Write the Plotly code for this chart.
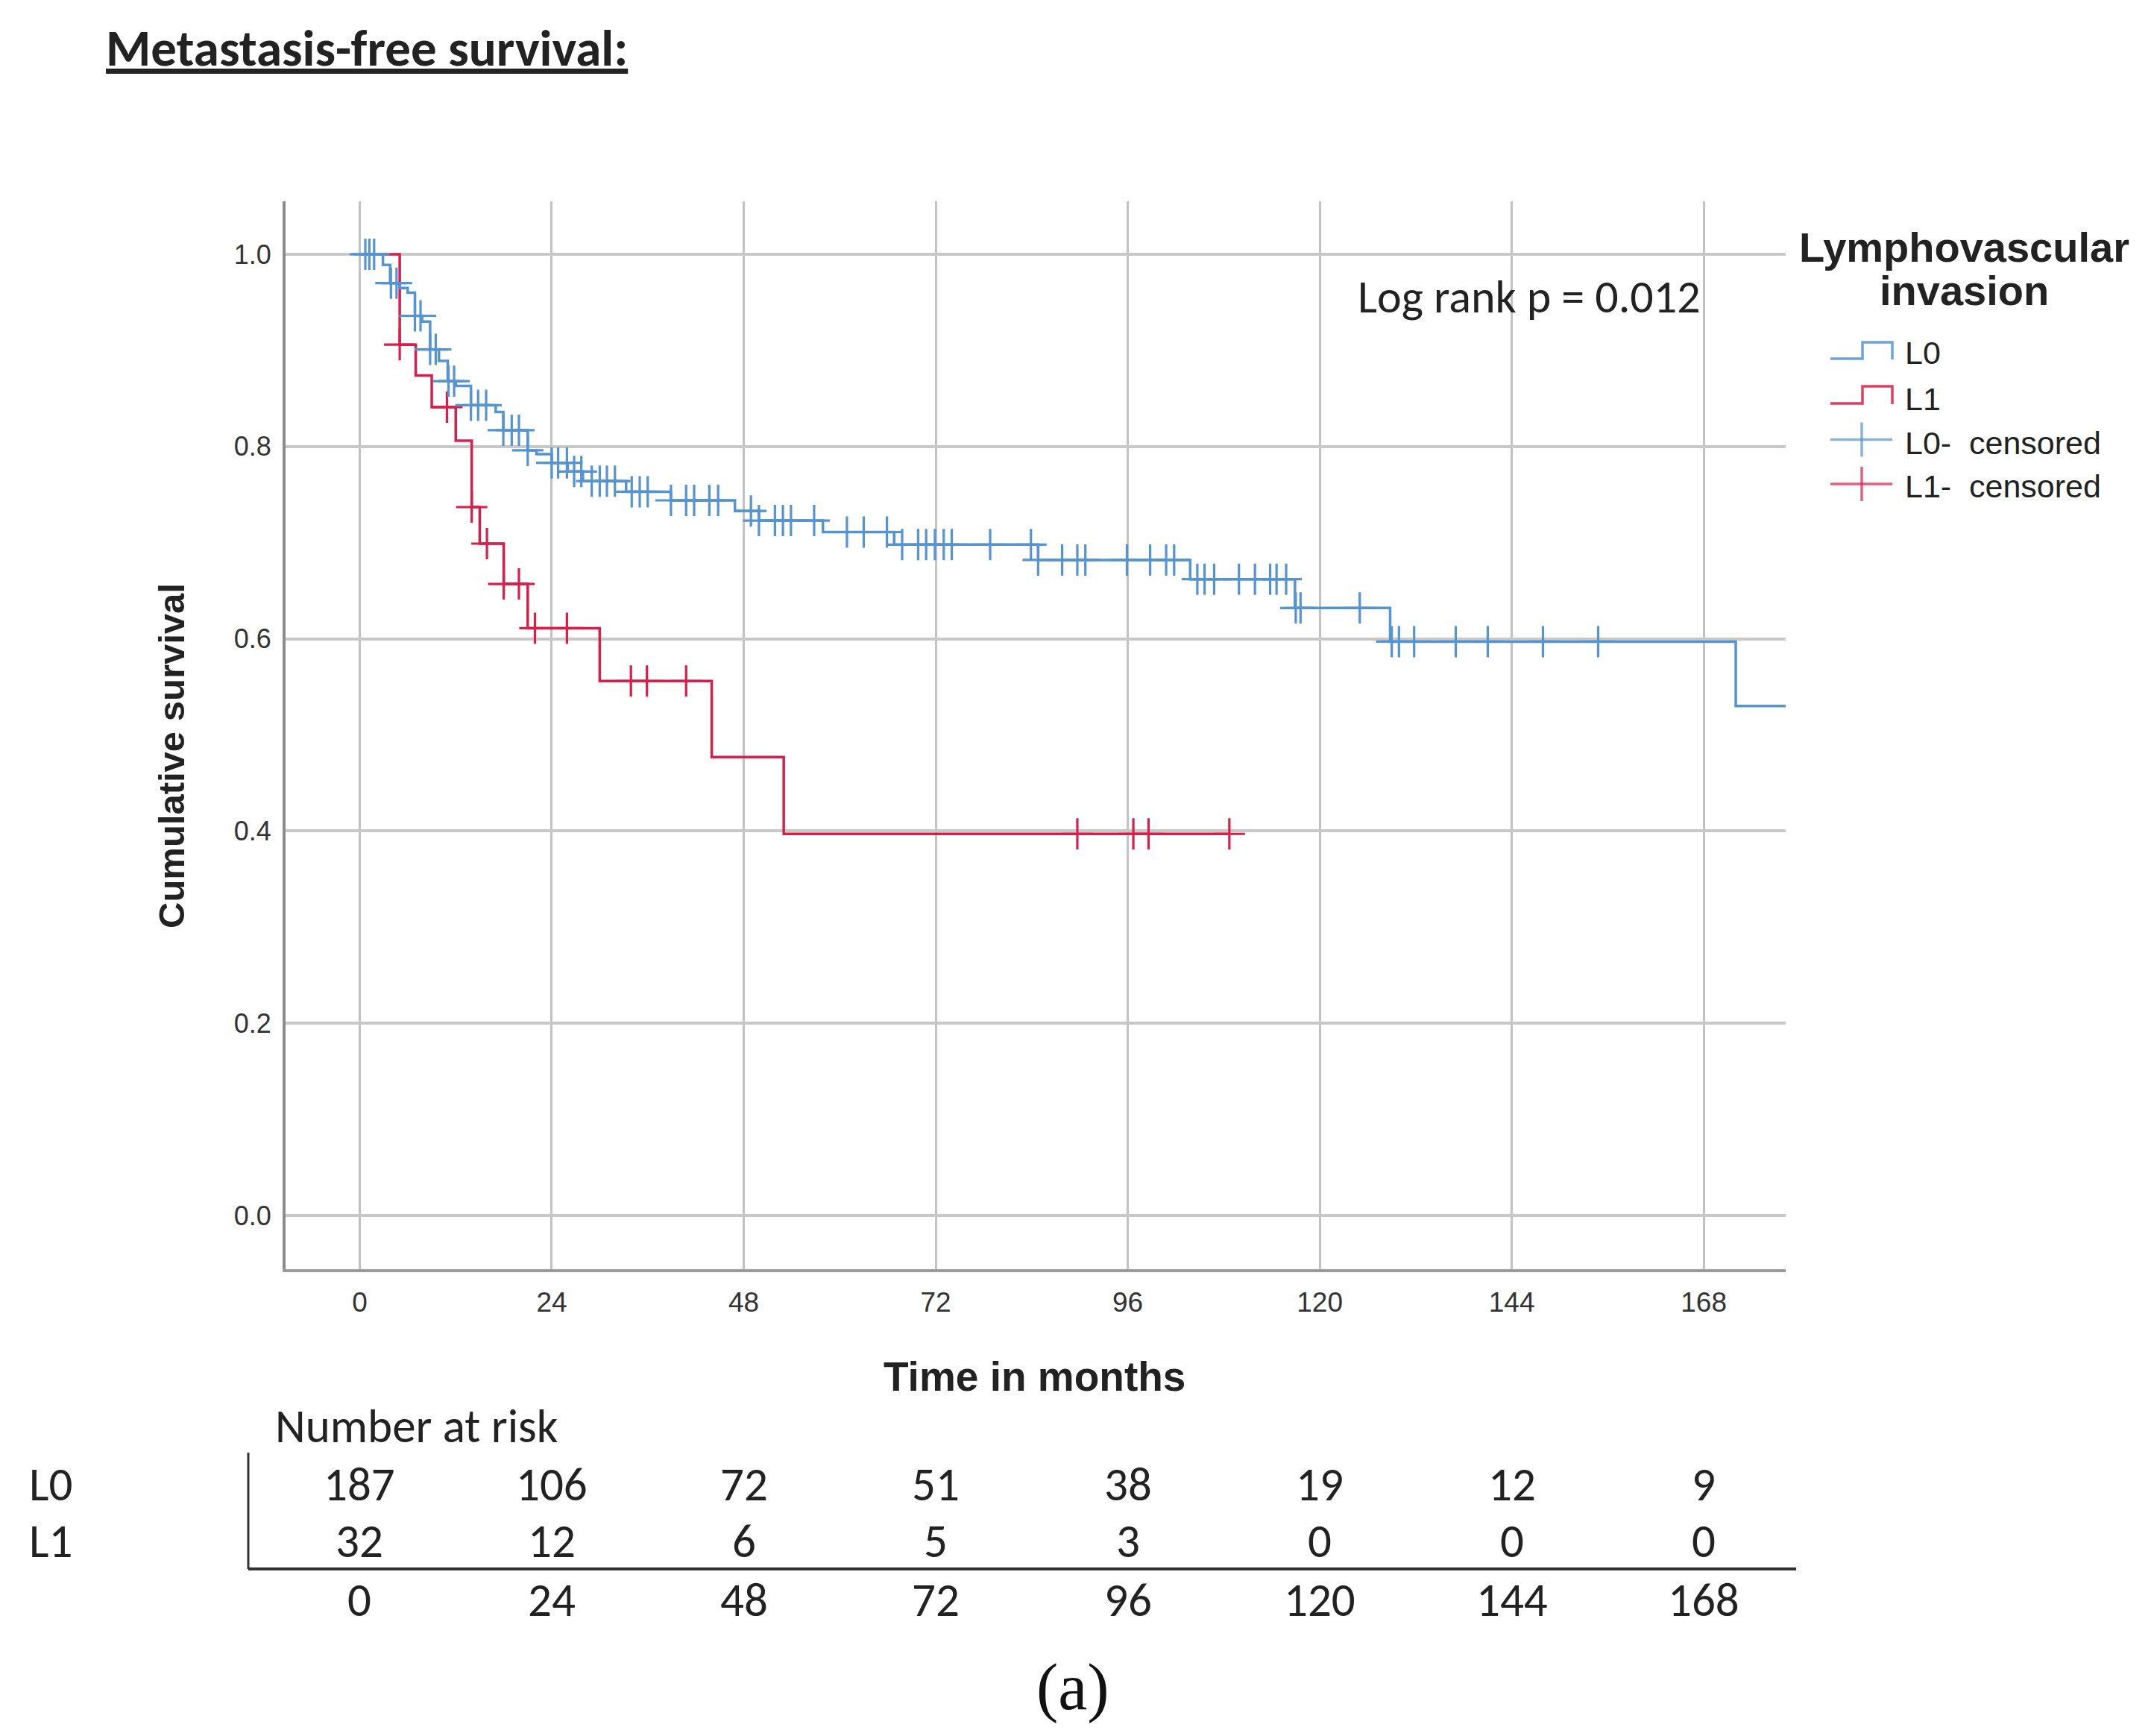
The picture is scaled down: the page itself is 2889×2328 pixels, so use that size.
import numpy as np
import plotly.graph_objects as go

W, H = 2889, 2328
OFF = 8  # default body margin of the html page

# Kaplan-Meier steps: event time (months) and survival after the drop
l0_event_t = [2.9, 3.8, 5.0, 6.0, 6.9, 7.8, 8.8, 9.9, 11.0, 12.0, 13.9, 17.0, 17.95, 21.0, 22.1,
              24.0, 26.0, 27.9, 33.3, 38.9, 46.9, 49.9, 57.9, 66.8, 84.8, 103.8, 116.9, 128.8, 172.0]
l0_event_s = [0.989, 0.970, 0.965, 0.960, 0.936, 0.930, 0.901, 0.889, 0.868, 0.863, 0.843, 0.836,
              0.817, 0.796, 0.792, 0.783, 0.774, 0.764, 0.753, 0.744, 0.733, 0.723, 0.711, 0.698,
              0.682, 0.662, 0.632, 0.597, 0.530]
l0_end = 180.0
l0_censor_t = [0.7, 1.2, 1.8, 3.9, 4.6, 6.9, 7.6, 8.8, 9.5, 11.1, 11.8, 13.9, 14.8, 15.8, 17.95,
               19.0, 19.9, 21.0, 24.0, 24.8, 25.9, 26.8, 27.7, 29.0, 30.0, 30.9, 31.9, 34.0, 35.0,
               36.0, 38.9, 40.8, 41.8, 43.7, 44.8, 48.9, 49.9, 51.9, 52.9, 53.9, 56.8, 60.9, 63.0,
               65.9, 67.8, 69.8, 70.8, 71.9, 73.0, 74.0, 78.8, 83.9, 84.8, 87.8, 89.7, 90.7, 95.9,
               98.8, 100.8, 101.8, 104.7, 105.6, 106.8, 109.9, 111.9, 113.8, 114.6, 115.8, 117.0,
               117.6, 125.0, 129.0, 129.9, 131.8, 137.0, 141.0, 147.9, 154.8]

l1_event_t = [5.0, 7.0, 9.0, 12.0, 14.0, 15.0, 18.0, 21.0, 30.0, 44.0, 53.0]
l1_event_s = [0.906, 0.874, 0.841, 0.806, 0.737, 0.699, 0.657, 0.611, 0.556, 0.477, 0.397]
l1_end = 108.7
l1_censor_t = [5.0, 10.9, 14.0, 15.9, 18.0, 19.9, 21.9, 25.9, 33.9, 35.9, 40.8, 89.7, 96.7,
               98.6, 108.7]

# number at risk table
risk_times = [0, 24, 48, 72, 96, 120, 144, 168]
risk_l0 = [187, 106, 72, 51, 38, 19, 12, 9]
risk_l1 = [32, 12, 6, 5, 3, 0, 0, 0]

y_ticks = [0.0, 0.2, 0.4, 0.6, 0.8, 1.0]

BLUE = '#5593d1'
RED = '#d81f4a'
SANS = 'Liberation Sans, Arial, sans-serif'
CAL = 'Carlito, Lato, sans-serif'


def px(x):
    return (x - OFF) / W


def py(y):
    return 1 - (y - OFF) / H


def step_xy(ev_t, ev_s, end_t):
    xs = [0.0] + list(ev_t) + [end_t]
    ys = [1.0] + list(ev_s) + [ev_s[-1]]
    return xs, ys


def level_at(ev_t, ev_s, times):
    idx = np.searchsorted(np.array(ev_t), np.array(times), side='right')
    lv = np.concatenate([[1.0], ev_s])
    return lv[idx]


fig = go.Figure()

x1, y1 = step_xy(l1_event_t, l1_event_s, l1_end)
fig.add_trace(go.Scatter(x=x1, y=y1, mode='lines', line=dict(color=RED, width=3.5, shape='hv'),
                         showlegend=False, hoverinfo='skip'))
fig.add_trace(go.Scatter(x=l1_censor_t, y=level_at(l1_event_t, l1_event_s, l1_censor_t),
                         mode='markers', showlegend=False, hoverinfo='skip',
                         marker=dict(symbol='cross-thin', size=30, line=dict(color=RED, width=3.2))))

x0, y0 = step_xy(l0_event_t, l0_event_s, l0_end)
fig.add_trace(go.Scatter(x=x0, y=y0, mode='lines', line=dict(color=BLUE, width=3.5, shape='hv'),
                         showlegend=False, hoverinfo='skip'))
fig.add_trace(go.Scatter(x=l0_censor_t, y=level_at(l0_event_t, l0_event_s, l0_censor_t),
                         mode='markers', showlegend=False, hoverinfo='skip',
                         marker=dict(symbol='cross-thin', size=30, line=dict(color=BLUE, width=3.2))))

ann = []
# title
ann.append(dict(text='<b>Metastasis-free survival:</b>', x=px(140), y=py(64), xanchor='left',
                yanchor='middle', font=dict(family=CAL, size=69, color='#222', lineposition='under')))
ann.append(dict(text='Log rank p = 0.012', x=px(2051), y=py(398), xanchor='center', yanchor='middle',
                font=dict(family=CAL, size=62, color='#222')))
# axis titles
ann.append(dict(text='<b>Cumulative survival</b>', x=px(230), y=py(1014), textangle=-90,
                xanchor='center', yanchor='middle', font=dict(family=SANS, size=49, color='#222')))
ann.append(dict(text='<b>Time in months</b>', x=px(1387), y=py(1846), xanchor='center',
                yanchor='middle', font=dict(family=SANS, size=55, color='#222')))
# legend
ann.append(dict(text='<b>Lymphovascular</b>', x=px(2634), y=py(332), xanchor='center', yanchor='middle',
                font=dict(family=SANS, size=56, color='#222')))
ann.append(dict(text='<b>invasion</b>', x=px(2634), y=py(390), xanchor='center', yanchor='middle',
                font=dict(family=SANS, size=56, color='#222')))
for lbl, yy in [('L0', 473), ('L1', 535), ('L0-\u00a0\u00a0censored', 594), ('L1-\u00a0\u00a0censored', 652)]:
    ann.append(dict(text=lbl, x=px(2553), y=py(yy), xanchor='left', yanchor='middle',
                    font=dict(family=SANS, size=43, color='#222')))

# number at risk
ann.append(dict(text='Number at risk', x=px(367), y=py(1912), xanchor='left', yanchor='middle',
                font=dict(family=CAL, size=63, color='#222')))
for lbl, yy in [('L0', 1990), ('L1', 2066)]:
    ann.append(dict(text=lbl, x=px(37), y=py(yy), xanchor='left', yanchor='middle',
                    font=dict(family=CAL, size=63, color='#222')))
for t, a, b in zip(risk_times, risk_l0, risk_l1):
    for val, yy in [(a, 1990), (b, 2066), (t, 2145)]:
        ann.append(dict(text=str(val), x=t, xref='x', y=py(yy), yref='paper', xanchor='center',
                        yanchor='middle', showarrow=False, font=dict(family=CAL, size=63, color='#222')))
ann.append(dict(text='(a)', x=px(1439), y=py(2262), xanchor='center', yanchor='middle',
                font=dict(family='Liberation Serif, Times New Roman, serif', size=88, color='#111')))

for a in ann:
    a.setdefault('xref', 'paper')
    a.setdefault('yref', 'paper')
    a.setdefault('showarrow', False)

shapes = []
# legend glyphs
for col, lo, hi in [(BLUE, 481, 459), (RED, 541, 518)]:
    path = (f'M {px(2455)},{py(lo)} H {px(2498)} V {py(hi)} H {px(2538)} V {py(lo + 1)}')
    shapes.append(dict(type='path', path=path, xref='paper', yref='paper',
                       line=dict(color=col, width=3.5), opacity=0.85))
for col, yc in [(BLUE, 589.5), (RED, 649)]:
    shapes.append(dict(type='line', x0=px(2455), x1=px(2538), y0=py(yc), y1=py(yc), xref='paper',
                       yref='paper', line=dict(color=col, width=3.5), opacity=0.7))
    shapes.append(dict(type='line', x0=px(2497), x1=px(2497), y0=py(yc - 23), y1=py(yc + 23),
                       xref='paper', yref='paper', line=dict(color=col, width=3.5), opacity=0.7))
# risk table frame
shapes.append(dict(type='line', x0=px(333), x1=px(333), y0=py(1948), y1=py(2104), xref='paper',
                   yref='paper', line=dict(color='#333', width=3)))
shapes.append(dict(type='line', x0=px(333), x1=px(2409), y0=py(2104), y1=py(2104), xref='paper',
                   yref='paper', line=dict(color='#333', width=4)))

fig.update_layout(
    width=W, height=H, autosize=False,
    margin=dict(l=0, r=0, t=0, b=0),
    paper_bgcolor='white', plot_bgcolor='white',
    showlegend=False,
    annotations=ann,
    shapes=shapes,
    xaxis=dict(domain=[px(383), px(2395)], range=[-9.27, 178.24], tickvals=risk_times,
               showgrid=True, gridcolor='#c2c2c2', gridwidth=2.5, zeroline=False,
               showline=True, linecolor='#9a9a9a', linewidth=4,
               ticks='outside', ticklen=9, tickcolor='rgba(0,0,0,0)',
               tickfont=dict(family=SANS, size=37, color='#333'), fixedrange=True),
    yaxis=dict(domain=[py(1702), py(270)], range=[-0.0559, 1.0551], tickvals=y_ticks,
               tickformat='.1f', showgrid=True, gridcolor='#c8c8c8', gridwidth=4, zeroline=False,
               showline=True, linecolor='#8c8c8c', linewidth=4,
               ticks='outside', ticklen=8, tickcolor='rgba(0,0,0,0)',
               tickfont=dict(family=SANS, size=36, color='#333'), fixedrange=True),
)

fig.write_html('out.html')
